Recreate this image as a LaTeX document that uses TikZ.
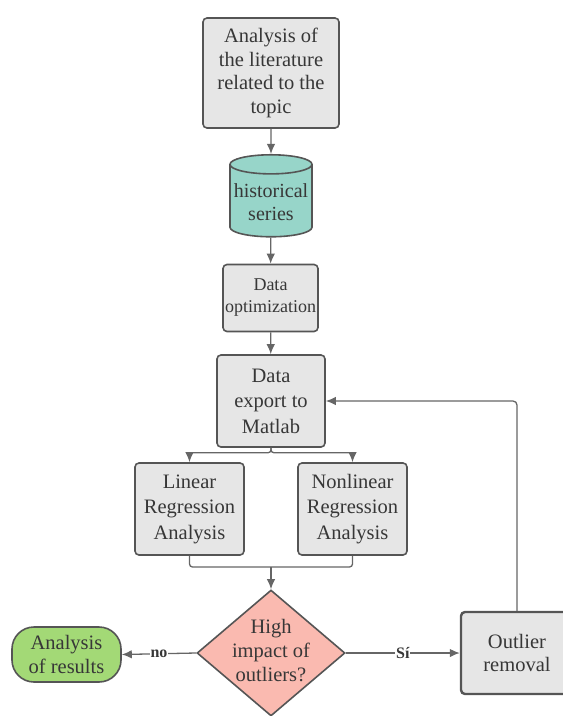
\documentclass[tikz,border=0pt]{standalone}
\usepackage{fontspec}
\setmainfont{Liberation Serif}
\usetikzlibrary{arrows.meta,positioning,shapes.geometric}
\definecolor{fcgray}{RGB}{230,230,230}
\definecolor{fcline}{RGB}{85,85,85}
\definecolor{fcarrow}{RGB}{102,102,102}
\definecolor{fctext}{RGB}{55,55,55}
\definecolor{fcteal}{RGB}{151,213,201}
\definecolor{fcsalmon}{RGB}{250,186,176}
\definecolor{fcgreen}{RGB}{163,217,118}

\begin{document}
\begin{tikzpicture}[
  x=1pt, y=-1pt,
  box/.style={rounded corners=4pt, draw=fcline, line width=1.6pt, fill=fcgray, text=fctext, align=center, inner sep=2pt, font=\fontsize{20.5}{25.5}\selectfont},
  store/.style={cylinder, shape border rotate=90, aspect=0.25, draw=fcline, line width=1.6pt, fill=fcteal, text=fctext, align=center, inner sep=1pt, minimum width=82pt, minimum height=82pt, font=\fontsize{20}{23.5}\selectfont},
  decision/.style={diamond, draw=fcline, line width=1.6pt, fill=fcsalmon, inner sep=0pt, minimum width=148pt, minimum height=126pt},
  term/.style={rounded corners=22pt, draw=fcline, line width=1.6pt, fill=fcgreen, text=fctext, align=center, minimum width=109pt, minimum height=55pt, font=\fontsize{20.5}{23.5}\selectfont},
  arr/.style={-{Latex[length=10pt,width=8.5pt]}, line width=1.3pt, draw=fcarrow},
  line/.style={line width=1.3pt, draw=fcarrow},
  tag/.style={fill=white, inner sep=1pt, text=fctext, font=\fontsize{16}{16}\selectfont\bfseries}
]
\useasboundingbox (0,0) rectangle (563,716);
\clip (0,0) rectangle (563,716);

\node[box, minimum width=136pt, minimum height=110pt, font=\fontsize{20.5}{23.5}\selectfont] (lit) at (271,73) {Analysis of\\the literature\\related to the\\topic};
\node[store] (hist) at (271,202) {historical\\series};
\node[box, minimum width=95pt, minimum height=67pt, font=\fontsize{18}{22}\selectfont] (optim) at (270.5,298) {Data\\optimization};
\node[box, minimum width=108pt, minimum height=92pt] (export) at (271,401) {Data\\export to\\Matlab};
\node[box, minimum width=109pt, minimum height=92pt] (linreg) at (189.5,509) {Linear\\Regression\\Analysis};
\node[box, minimum width=109pt, minimum height=92pt] (nonlin) at (352.5,509) {Nonlinear\\Regression\\Analysis};
\node[decision, label={[text=fctext, align=center, yshift=2pt, font=\fontsize{20.5}{24}\selectfont]center:High\\impact of\\outliers?}] (decide) at (271,653) {};
\node[term] (results) at (66.5,654.5) {Analysis\\of results};
\node[box, line width=2.4pt, minimum width=112pt, minimum height=82pt, font=\fontsize{20.5}{23.5}\selectfont] (outlier) at (517,653) {Outlier\\removal};
\coordinate (join) at (271,567);

\draw[arr] (lit) -- (hist);
\draw[arr] (hist) -- (optim);
\draw[arr] (optim) -- (export);
\draw[arr, rounded corners=3pt] (export.south) -- ++(0,5) -| (linreg.north);
\draw[arr, rounded corners=3pt] (export.south) -- ++(0,5) -| (nonlin.north);
\draw[line, rounded corners=3pt] (linreg.south) |- (join) -| (nonlin.south);
\draw[arr] (join) -- (decide.north);
\draw[arr] (decide.west) -- node[tag, pos=0.5] {no} (results.east);
\draw[arr] (decide.east) -- node[tag, pos=0.5] {Sí} (outlier.west);
\draw[arr, rounded corners=4pt] (outlier.north) |- (export.east);
\end{tikzpicture}
\end{document}
